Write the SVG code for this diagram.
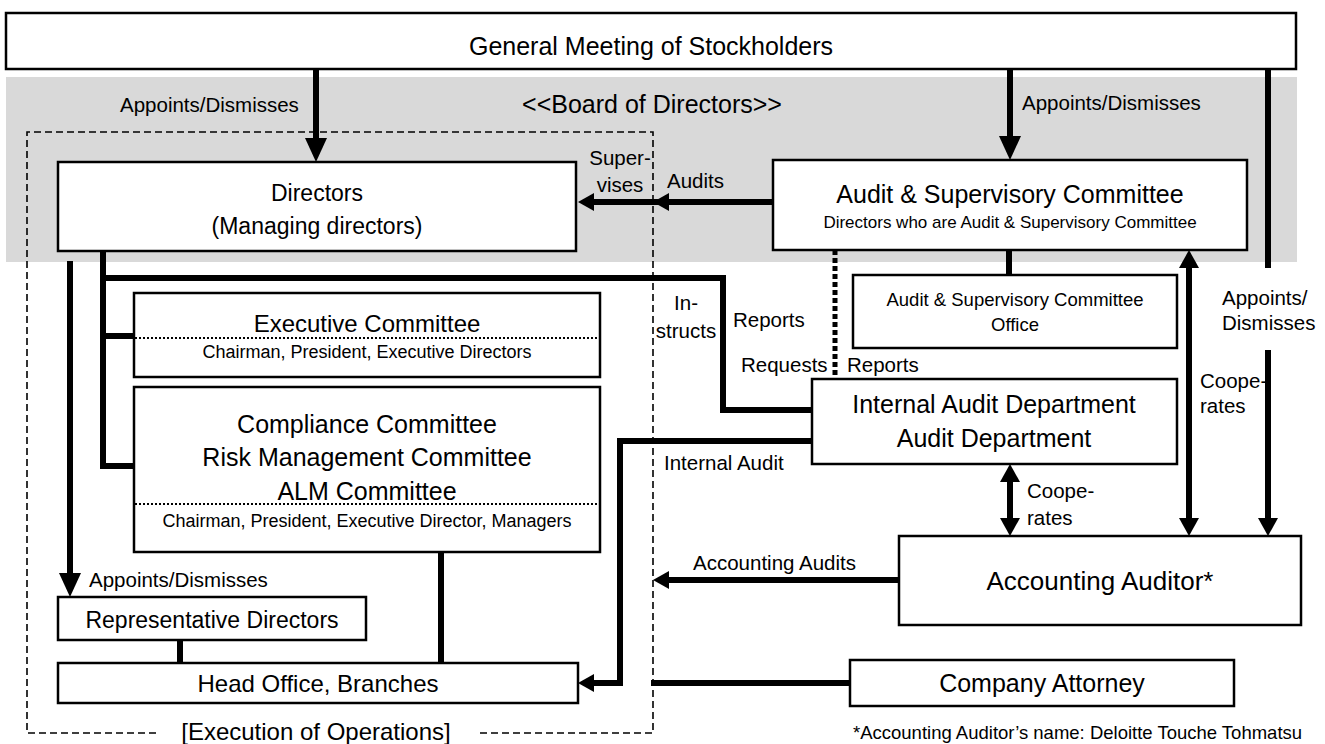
<svg xmlns="http://www.w3.org/2000/svg" width="1325" height="744" viewBox="0 0 1325 744">
<style>
text{font-family:"Liberation Sans",Arial,sans-serif;fill:#000}
.box{fill:#fff;stroke:#000;stroke-width:2.5}
.c{stroke:#000;stroke-width:6;fill:none}
.sep{stroke:#000;stroke-width:1.8;stroke-dasharray:2 2;fill:none}
.lbl{font-size:20.5px}
.big{font-size:25px;text-anchor:middle}
.sub{font-size:18px;text-anchor:middle}
.mid{text-anchor:middle}
</style>
<defs>
<marker id="ab" viewBox="0 0 24 22" refX="0" refY="11" markerWidth="24" markerHeight="22" markerUnits="userSpaceOnUse" orient="auto-start-reverse"><path d="M0,0 L24,11 L0,22 Z" fill="#000"/></marker>
<marker id="av" viewBox="0 0 18 20" refX="0" refY="10" markerWidth="18" markerHeight="20" markerUnits="userSpaceOnUse" orient="auto-start-reverse"><path d="M0,0 L18,10 L0,20 Z" fill="#000"/></marker>
<marker id="ah" viewBox="0 0 16 18" refX="0" refY="9" markerWidth="16" markerHeight="18" markerUnits="userSpaceOnUse" orient="auto-start-reverse"><path d="M0,0 L16,9 L0,18 Z" fill="#000"/></marker>
</defs>
<rect x="0" y="0" width="1325" height="744" fill="#fff"/>
<rect id="board-band" x="6" y="77" width="1291" height="185" fill="#d9d9d9"/>
<text class="big" x="652" y="113">&lt;&lt;Board of Directors&gt;&gt;</text>
<path id="execution-frame" d="M156,733 H27 V132 H653 V733 H476" fill="none" stroke="#000" stroke-width="1.6" stroke-dasharray="7 4"/>
<text x="316" y="740" font-size="24" text-anchor="middle">[Execution of Operations]</text>

<g id="connectors">
<path class="c" d="M316,69 V138" marker-end="url(#ab)"/>
<path class="c" d="M1010,69 V136" marker-end="url(#ab)"/>
<path class="c" d="M1268,69 V268"/>
<path class="c" d="M1268,350 V518" marker-end="url(#av)"/>
<path class="c" d="M773,202 H669 H594" marker-mid="url(#ah)" marker-end="url(#ah)"/>
<path class="c" d="M1009,250 V275"/>
<path d="M835,250 V379" stroke="#000" stroke-width="5" stroke-dasharray="5 3" fill="none"/>
<path class="c" d="M1189,268 V518" marker-start="url(#av)" marker-end="url(#av)"/>
<path class="c" d="M103,251 V466 H134"/>
<path class="c" d="M103,336 H134"/>
<path class="c" d="M103,278 H723 V410 H812"/>
<path class="c" d="M70,261 V573" marker-end="url(#ab)"/>
<path class="c" d="M180,640 V663"/>
<path class="c" d="M441,552 V663"/>
<path class="c" d="M812,441 H620 V683 H594" marker-end="url(#ah)"/>
<path class="c" d="M1010,482 V518" marker-start="url(#av)" marker-end="url(#av)"/>
<path class="c" d="M899,580 H669" marker-end="url(#ah)"/>
<path class="c" d="M850,683 H651"/>
</g>

<g id="labels">
<text class="lbl" x="120" y="112">Appoints/Dismisses</text>
<text class="lbl" x="1022" y="110">Appoints/Dismisses</text>
<text class="lbl mid" x="620" y="165">Super-</text>
<text class="lbl mid" x="620" y="192">vises</text>
<text class="lbl" x="667" y="188">Audits</text>
<text class="lbl mid" x="686" y="310">In-</text>
<text class="lbl mid" x="686" y="338">structs</text>
<text class="lbl" x="733" y="327">Reports</text>
<text class="lbl" x="741" y="372">Requests</text>
<text class="lbl" x="847" y="372">Reports</text>
<text class="lbl" x="1222" y="305">Appoints/</text>
<text class="lbl" x="1222" y="330">Dismisses</text>
<text class="lbl" x="1200" y="388">Coope-</text>
<text class="lbl" x="1200" y="413">rates</text>
<text class="lbl" x="664" y="470">Internal Audit</text>
<text class="lbl" x="1027" y="498">Coope-</text>
<text class="lbl" x="1027" y="525">rates</text>
<text class="lbl" x="693" y="570">Accounting Audits</text>
<text class="lbl" x="89" y="587">Appoints/Dismisses</text>
<text x="853" y="739" font-size="18.5">*Accounting Auditor’s name: Deloitte Touche Tohmatsu</text>
</g>

<g id="general-meeting">
<rect class="box" x="6" y="13" width="1290" height="56"/>
<text class="big" x="651" y="55" font-size="25">General Meeting of Stockholders</text>
</g>
<g id="directors">
<rect class="box" x="58" y="162" width="518" height="89"/>
<text x="317" y="201" font-size="23" text-anchor="middle">Directors</text>
<text x="317" y="234" font-size="23" text-anchor="middle">(Managing directors)</text>
</g>
<g id="audit-committee">
<rect class="box" x="773" y="160" width="474" height="90"/>
<text class="big" x="1010" y="203">Audit &amp; Supervisory Committee</text>
<text x="1010" y="228" font-size="17" text-anchor="middle">Directors who are Audit &amp; Supervisory Committee</text>
</g>
<g id="audit-office">
<rect class="box" x="853" y="275" width="324" height="73"/>
<text x="1015" y="306" font-size="18.5" text-anchor="middle">Audit &amp; Supervisory Committee</text>
<text x="1015" y="331" font-size="18.5" text-anchor="middle">Office</text>
</g>
<g id="internal-audit">
<rect class="box" x="812" y="379" width="365" height="85"/>
<text class="big" x="994" y="413">Internal Audit Department</text>
<text class="big" x="994" y="447">Audit Department</text>
</g>
<g id="executive-committee">
<rect class="box" x="134" y="293" width="466" height="84"/>
<text x="367" y="332" font-size="24" text-anchor="middle">Executive Committee</text>
<line class="sep" x1="135" y1="338" x2="599" y2="338"/>
<text class="sub" x="367" y="358">Chairman, President, Executive Directors</text>
</g>
<g id="compliance-committees">
<rect class="box" x="134" y="387" width="466" height="165"/>
<text class="big" x="367" y="433">Compliance Committee</text>
<text class="big" x="367" y="466">Risk Management Committee</text>
<text class="big" x="367" y="500">ALM Committee</text>
<line class="sep" x1="135" y1="504" x2="599" y2="504"/>
<text class="sub" x="367" y="527">Chairman, President, Executive Director, Managers</text>
</g>
<g id="representative-directors">
<rect class="box" x="58" y="597" width="308" height="43"/>
<text x="212" y="628" font-size="23" text-anchor="middle">Representative Directors</text>
</g>
<g id="head-office">
<rect class="box" x="58" y="663" width="520" height="40"/>
<text x="318" y="692" font-size="24" text-anchor="middle">Head Office, Branches</text>
</g>
<g id="accounting-auditor">
<rect class="box" x="899" y="536" width="402" height="89"/>
<text x="1100" y="590" font-size="26" text-anchor="middle">Accounting Auditor*</text>
</g>
<g id="company-attorney">
<rect class="box" x="850" y="660" width="384" height="46"/>
<text x="1042" y="692" font-size="25" text-anchor="middle">Company Attorney</text>
</g>
</svg>
